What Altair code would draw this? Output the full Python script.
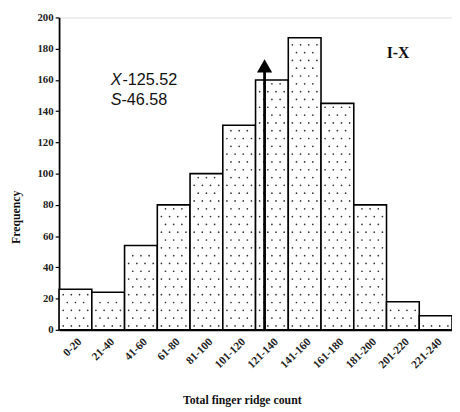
import json
import altair as alt
import pandas as pd

# ---- data ----
bin_lo = [0, 20, 40, 60, 80, 100, 120, 140, 160, 180, 200, 220]
bin_labels = ["0-20", "21-40", "41-60", "61-80", "81-100", "101-120",
              "121-140", "141-160", "161-180", "181-200", "201-220", "221-240"]
freq = [26, 24, 54, 80, 100, 131, 160, 187, 145, 80, 18, 9]
mean_x = 125.52
sd = 46.58
arrow_top = 165
arrow_tip = 169

bars = pd.DataFrame({"lo": bin_lo, "hi": [b + 20 for b in bin_lo],
                     "label": bin_labels, "freq": freq, "zero": [0] * len(bin_lo)})

# dotted texture derived from bar data
dots = []
for lo, f in zip(bin_lo, freq):
    j = 0
    y = 2.5
    while y < f - 1.5:
        xs = [2.5, 7.5, 12.5, 17.5] if j % 2 == 0 else [5, 10, 15]
        for off in xs:
            dots.append({"x": lo + off, "y": y})
        j += 1
        y += 5
dots = pd.DataFrame(dots)

xscale = alt.Scale(domain=[0, 240], nice=False, zero=False)
yscale = alt.Scale(domain=[0, 200], nice=False)
serif = "Liberation Serif"

label_expr = json.dumps(bin_labels) + "[floor(datum.value/20)]"

xaxis = alt.Axis(values=[b + 10 for b in bin_lo], labelExpr=label_expr,
                 labelAngle=-45, labelAlign="right", labelBaseline="top",
                 labelFont=serif, labelFontWeight="bold", labelFontSize=11.5,
                 labelColor="#222", ticks=False, labelPadding=6,
                 labelOverlap=False, labelBound=False,
                 domainColor="black", domainWidth=2, grid=False,
                 title="Total finger ridge count", titleFont=serif,
                 titleFontWeight="bold", titleFontSize=12, titleColor="#111",
                 titleX=186, titleY=71, titleAlign="center",
                 titleBaseline="middle")
yaxis = alt.Axis(values=list(range(0, 201, 20)), labelFont=serif,
                 labelFontWeight="bold", labelFontSize=11, labelColor="#222",
                 tickSize=4, tickColor="black", tickWidth=1.2,
                 labelOverlap=False,
                 domainColor="black", domainWidth=1.8, grid=False,
                 title="Frequency", titleFont=serif, titleFontWeight="bold",
                 titleFontSize=12, titleColor="#111",
                 titleX=-44, titleY=203, titleAlign="center",
                 titleBaseline="middle")


def X(field):
    return alt.X(field, scale=xscale, axis=xaxis)


def Y(field):
    return alt.Y(field, scale=yscale, axis=yaxis)


base_bars = alt.Chart(bars).mark_rect(
    fill="white", stroke="black", strokeWidth=1.6
).encode(x=X("lo:Q"), x2="hi:Q", y=Y("freq:Q"), y2="zero:Q")

dot_layer = alt.Chart(dots).mark_circle(size=3, color="#333", opacity=1).encode(
    x=X("x:Q"), y=Y("y:Q")
)

arrow_df = pd.DataFrame({"x": [mean_x], "y0": [0], "y1": [arrow_top], "tip": [arrow_tip]})
arrow_line = alt.Chart(arrow_df).mark_rule(color="black", strokeWidth=2.8).encode(
    x=X("x:Q"), y=Y("y0:Q"), y2="y1:Q"
)
arrow_head = alt.Chart(arrow_df).mark_point(
    shape="triangle-up", filled=True, color="black", size=240, opacity=1
).encode(x=X("x:Q"), y=Y("tip:Q"))

txt = pd.DataFrame({"x": [31.5], "y1": [160], "y2": [147]})
t_x = alt.Chart(txt).mark_text(text="X", font="Liberation Sans", fontStyle="italic",
                               fontSize=16.5, align="left", color="#111").encode(
    x=X("x:Q"), y=Y("y1:Q"))
t_x2 = alt.Chart(txt).mark_text(text="-125.52", font="Liberation Sans",
                                fontSize=16.5, align="left", dx=12, color="#111").encode(
    x=X("x:Q"), y=Y("y1:Q"))
t_s = alt.Chart(txt).mark_text(text="S", font="Liberation Sans", fontStyle="italic",
                               fontSize=16.5, align="left", color="#111").encode(
    x=X("x:Q"), y=Y("y2:Q"))
t_s2 = alt.Chart(txt).mark_text(text="-" + str(sd), font="Liberation Sans",
                                fontSize=16.5, align="left", dx=11, color="#111").encode(
    x=X("x:Q"), y=Y("y2:Q"))

grp = pd.DataFrame({"x": [207], "y": [177]})
t_grp = alt.Chart(grp).mark_text(text="I-X", font=serif, fontWeight="bold",
                                 fontSize=16, align="center", color="#111").encode(
    x=X("x:Q"), y=Y("y:Q"))

chart = alt.layer(base_bars, dot_layer, arrow_line, arrow_head,
                  t_x, t_x2, t_s, t_s2, t_grp).properties(
    width=400, height=318,
    autosize=alt.AutoSizeParams(type="none"),
    padding={"left": 52, "top": 6, "right": 0, "bottom": 78},
).configure_view(stroke=None).configure(background="white")

chart.save("out.html", embed_options={"renderer": "svg", "actions": False})
